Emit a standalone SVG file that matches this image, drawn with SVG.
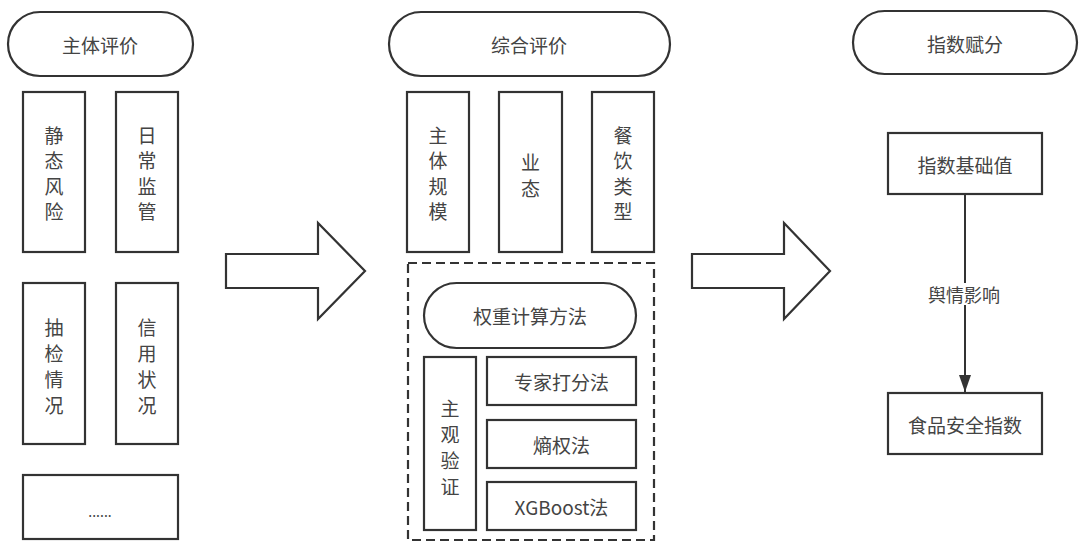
<svg xmlns="http://www.w3.org/2000/svg" width="1084" height="548" viewBox="0 0 1084 548">
<defs>
<style>
.box{fill:#fff;stroke:#333;stroke-width:2.2}
.dash{fill:none;stroke:#333;stroke-width:2.2;stroke-dasharray:9 5}
.t{font-family:"Noto Sans CJK SC","Noto Sans",sans-serif;font-size:19px;fill:#444;text-anchor:middle;dominant-baseline:central}
.line{stroke:#333;stroke-width:2;fill:none}
</style>
<marker id="ah" viewBox="0 0 17 12" refX="17" refY="6" markerWidth="17" markerHeight="12" markerUnits="userSpaceOnUse" orient="auto">
<path d="M0,0 L17,6 L0,12 z" fill="#333"/>
</marker>
</defs>
<rect width="1084" height="548" fill="#fff"/>

<g id="n-zhuti">
<rect class="box" x="8" y="12" width="185" height="64" rx="32"/>
<text class="t" x="100" y="44">主体评价</text>
</g>
<g id="n-jingtai">
<rect class="box" x="23" y="92" width="62" height="160"/>
<text class="t" x="54" y="134">静</text><text class="t" x="54" y="159.5">态</text><text class="t" x="54" y="185">风</text><text class="t" x="54" y="210.5">险</text>
</g>
<g id="n-richang">
<rect class="box" x="116" y="92" width="62" height="160"/>
<text class="t" x="147" y="134">日</text><text class="t" x="147" y="159.5">常</text><text class="t" x="147" y="185">监</text><text class="t" x="147" y="210.5">管</text>
</g>
<g id="n-choujian">
<rect class="box" x="23" y="283" width="62" height="161"/>
<text class="t" x="54" y="326">抽</text><text class="t" x="54" y="352">检</text><text class="t" x="54" y="378">情</text><text class="t" x="54" y="404">况</text>
</g>
<g id="n-xinyong">
<rect class="box" x="116" y="283" width="62" height="161"/>
<text class="t" x="147" y="326">信</text><text class="t" x="147" y="352">用</text><text class="t" x="147" y="378">状</text><text class="t" x="147" y="404">况</text>
</g>
<g id="n-more">
<rect class="box" x="23" y="475" width="155" height="64"/>
<text class="t" x="100" y="511" style="font-size:14px">......</text>
</g>

<g id="n-arrow1">
<path class="box" d="M226,254 L318,254 L318,223 L365,271 L318,319 L318,288 L226,288 Z"/>
</g>

<g id="n-zonghe">
<rect class="box" x="389" y="12" width="281" height="64" rx="32"/>
<text class="t" x="529" y="44">综合评价</text>
</g>
<g id="n-guimo">
<rect class="box" x="407" y="92" width="62" height="160"/>
<text class="t" x="438" y="134">主</text><text class="t" x="438" y="159.5">体</text><text class="t" x="438" y="185">规</text><text class="t" x="438" y="210.5">模</text>
</g>
<g id="n-yetai">
<rect class="box" x="499" y="92" width="63" height="160"/>
<text class="t" x="530.5" y="161">业</text><text class="t" x="530.5" y="187">态</text>
</g>
<g id="n-canyin">
<rect class="box" x="592" y="92" width="62" height="160"/>
<text class="t" x="623" y="134">餐</text><text class="t" x="623" y="159.5">饮</text><text class="t" x="623" y="185">类</text><text class="t" x="623" y="210.5">型</text>
</g>
<g id="n-group">
<rect class="dash" x="408" y="263" width="246" height="277"/>
</g>
<g id="n-quanzhong">
<rect class="box" x="424" y="283" width="212" height="65" rx="32.5"/>
<text class="t" x="530" y="315.5">权重计算方法</text>
</g>
<g id="n-zhuguan">
<rect class="box" x="424" y="357" width="52" height="173"/>
<text class="t" x="450" y="407">主</text><text class="t" x="450" y="433">观</text><text class="t" x="450" y="459">验</text><text class="t" x="450" y="485">证</text>
</g>
<g id="n-zhuanjia">
<rect class="box" x="487" y="357" width="149" height="48"/>
<text class="t" x="561.5" y="381">专家打分法</text>
</g>
<g id="n-shangquan">
<rect class="box" x="487" y="420" width="149" height="48"/>
<text class="t" x="561.5" y="444">熵权法</text>
</g>
<g id="n-xgboost">
<rect class="box" x="487" y="482" width="149" height="48"/>
<text class="t" x="561.5" y="506">XGBoost法</text>
</g>

<g id="n-arrow2">
<path class="box" d="M692,254 L784,254 L784,223 L830,271 L784,319 L784,288 L692,288 Z"/>
</g>

<g id="n-fufen">
<rect class="box" x="853" y="11" width="224" height="63" rx="31.5"/>
<text class="t" x="965" y="43">指数赋分</text>
</g>
<g id="n-jichu">
<rect class="box" x="888" y="133" width="154" height="61"/>
<text class="t" x="965" y="164">指数基础值</text>
</g>
<g id="n-shipin">
<rect class="box" x="888" y="393" width="154" height="61"/>
<text class="t" x="965" y="424">食品安全指数</text>
</g>

<g id="connectors">
<line class="line" x1="965" y1="194" x2="965" y2="283"/>
<line class="line" x1="965" y1="305" x2="965" y2="392" marker-end="url(#ah)"/>
<text class="t" x="964" y="294" style="font-size:18px">舆情影响</text>
</g>
</svg>
